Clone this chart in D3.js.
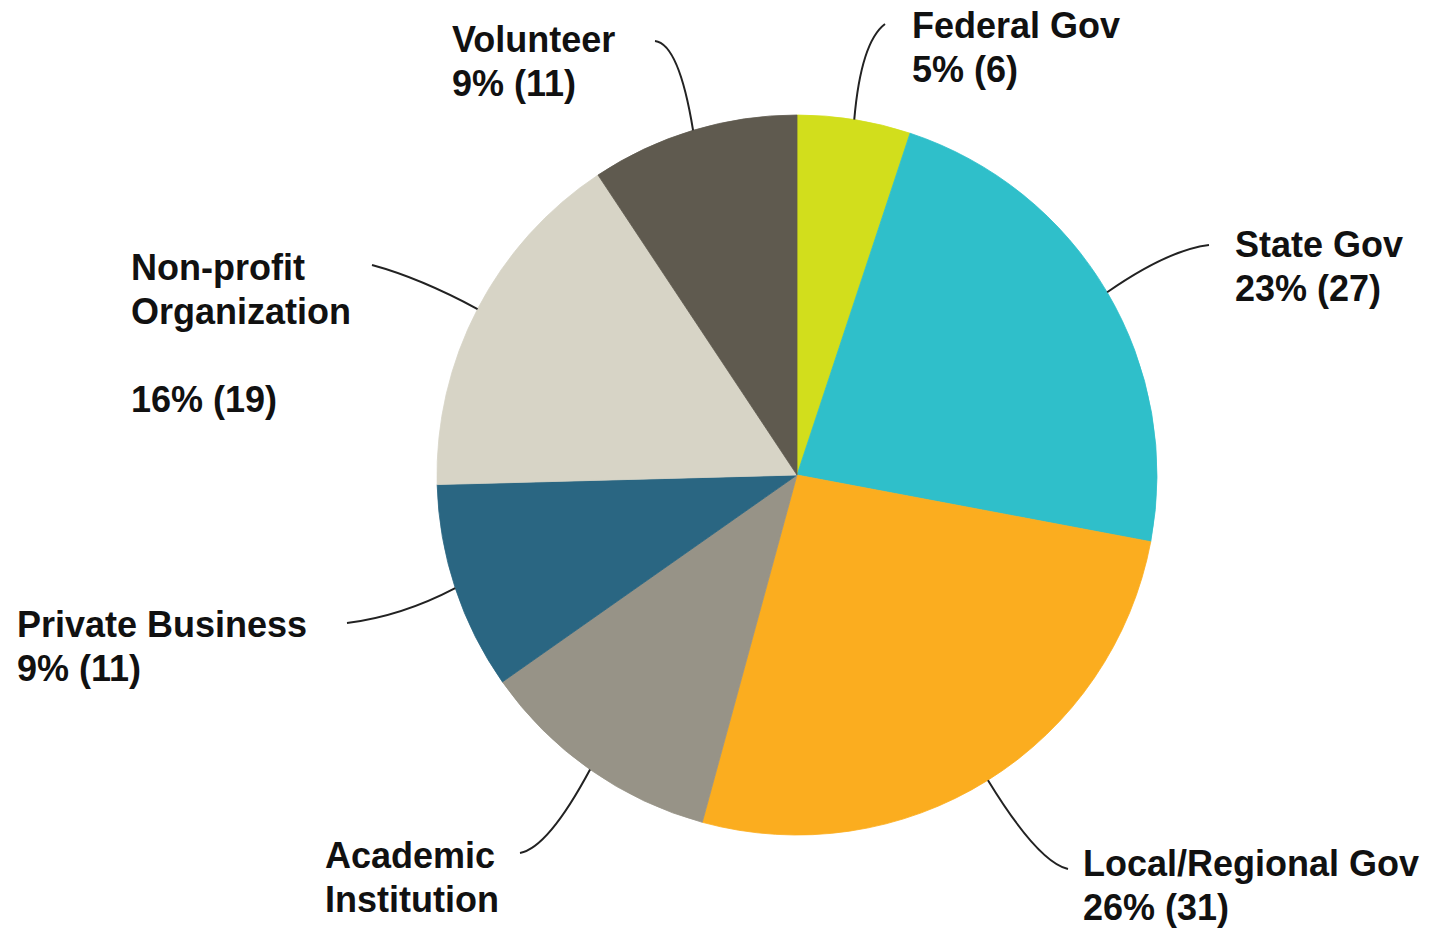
<!DOCTYPE html>
<html>
<head>
<meta charset="utf-8">
<script src="https://cdn.jsdelivr.net/npm/d3@7"></script>
<style>
  html, body { margin: 0; padding: 0; background: #ffffff; }
  svg { display: block; }
  text { font-family: "Liberation Sans", Arial, sans-serif; font-weight: bold; font-size: 36px; fill: #111; }
</style>
</head>
<body>
<svg id="chart" width="1429" height="929"></svg>
<script>
// ---- data ----
const categories = ["Federal Gov", "State Gov", "Local/Regional Gov", "Academic Institution", "Private Business", "Non-profit Organization", "Volunteer"];
const counts = [6, 27, 31, 13, 11, 19, 11];
const percentLabels = ["5% (6)", "23% (27)", "26% (31)", "", "9% (11)", "16% (19)", "9% (11)"];
const colors = ["#d2de1c", "#2fbfca", "#fbad1f", "#979387", "#2a6682", "#d7d4c6", "#5f5a4f"];

// label text lines (as in the original)
const labelLines = [
  ["Federal Gov", "5% (6)"],
  ["State Gov", "23% (27)"],
  ["Local/Regional Gov", "26% (31)"],
  ["Academic", "Institution"],
  ["Private Business", "9% (11)"],
  ["Non-profit", "Organization", "", "16% (19)"],
  ["Volunteer", "9% (11)"]
];

// ---- layout ----
const cx = 797, cy = 475, R = 360;
const lineH = 44;
// label anchor (left x, first baseline y), leader end point, leader control point
const labelPos = [
  {x: 912, y: 38,  end: [885, 24],  ctrl: [861, 42]},
  {x: 1235, y: 257, end: [1209, 245], ctrl: [1168, 250]},
  {x: 1083, y: 876, end: [1068, 869], ctrl: [1038, 862]},
  {x: 325, y: 868, end: [520, 853],  ctrl: [548, 848]},
  {x: 17,  y: 637, end: [347, 623],  ctrl: [402, 616]},
  {x: 131, y: 280, end: [372, 265],  ctrl: [420, 278]},
  {x: 452, y: 52,  end: [655, 41],   ctrl: [679, 44]}
];

const svg = d3.select("#chart");
const g = svg.append("g").attr("transform", `translate(${cx},${cy})`);

const pie = d3.pie().sort(null).value(d => d);
const arcs = pie(counts);
const arc = d3.arc().innerRadius(0).outerRadius(R);
const edgeArc = d3.arc().innerRadius(R).outerRadius(R);

g.selectAll("path.slice")
  .data(arcs)
  .enter().append("path")
  .attr("class", "slice")
  .attr("d", arc)
  .attr("fill", (d, i) => colors[i])
  .attr("stroke", (d, i) => colors[i])
  .attr("stroke-width", 0.8);

// leader lines
arcs.forEach((d, i) => {
  const p = edgeArc.centroid(d);
  const sx = cx + p[0], sy = cy + p[1];
  const lp = labelPos[i];
  const path = d3.path();
  path.moveTo(sx, sy);
  path.quadraticCurveTo(lp.ctrl[0], lp.ctrl[1], lp.end[0], lp.end[1]);
  svg.append("path")
    .attr("d", path.toString())
    .attr("fill", "none")
    .attr("stroke", "#222")
    .attr("stroke-width", 2);
});

// labels
labelLines.forEach((lines, i) => {
  const lp = labelPos[i];
  const t = svg.append("text").attr("x", lp.x).attr("y", lp.y);
  lines.forEach((ln, k) => {
    t.append("tspan")
      .attr("x", lp.x)
      .attr("y", lp.y + k * lineH)
      .text(ln);
  });
});
</script>
</body>
</html>
